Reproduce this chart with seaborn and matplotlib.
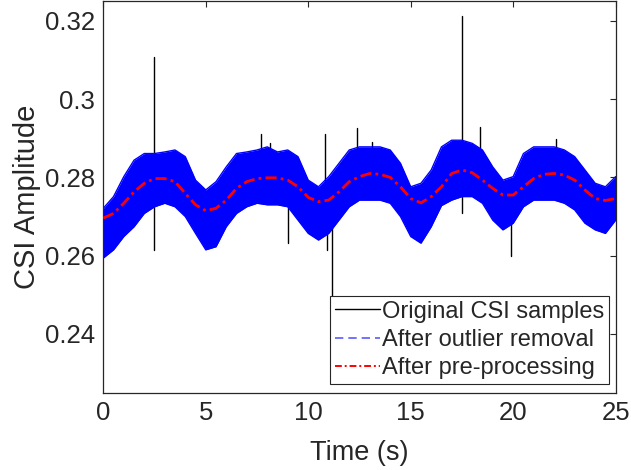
import numpy as np
import pandas as pd
import seaborn as sns
import matplotlib.pyplot as plt
from matplotlib.lines import Line2D

# ---- data ----
time_s = [0.0, 0.5, 1.0, 1.5, 2.0, 2.5, 3.0, 3.5, 4.0, 4.5, 5.0, 5.5, 6.0, 6.5, 7.0, 7.5, 8.0, 8.5,
          9.0, 9.5, 10.0, 10.5, 11.0, 11.5, 12.0, 12.5, 13.0, 13.5, 14.0, 14.5, 15.0, 15.5, 16.0, 16.5,
          17.0, 17.5, 18.0, 18.5, 19.0, 19.5, 20.0, 20.5, 21.0, 21.5, 22.0, 22.5, 23.0, 23.5, 24.0, 24.5, 25.0]

# After outlier removal: upper / lower extent of the dense noisy band
outlier_upper = [0.2721, 0.2751, 0.2802, 0.2844, 0.2861, 0.2861, 0.2865, 0.2870, 0.2853, 0.2793,
                 0.2768, 0.2789, 0.2827, 0.2861, 0.2865, 0.2870, 0.2878, 0.2865, 0.2870, 0.2853,
                 0.2793, 0.2776, 0.2802, 0.2836, 0.2870, 0.2878, 0.2878, 0.2878, 0.2870, 0.2836,
                 0.2776, 0.2785, 0.2819, 0.2878, 0.2895, 0.2895, 0.2887, 0.2870, 0.2827, 0.2793,
                 0.2802, 0.2861, 0.2878, 0.2878, 0.2878, 0.2870, 0.2853, 0.2819, 0.2785, 0.2776, 0.2802]
outlier_lower = [0.2594, 0.2615, 0.2649, 0.2674, 0.2708, 0.2725, 0.2734, 0.2725, 0.2700, 0.2657,
                 0.2615, 0.2623, 0.2674, 0.2708, 0.2725, 0.2734, 0.2730, 0.2730, 0.2725, 0.2691,
                 0.2657, 0.2640, 0.2657, 0.2691, 0.2725, 0.2742, 0.2742, 0.2742, 0.2734, 0.2700,
                 0.2649, 0.2632, 0.2674, 0.2728, 0.2742, 0.2751, 0.2751, 0.2734, 0.2691, 0.2666,
                 0.2683, 0.2725, 0.2742, 0.2742, 0.2742, 0.2734, 0.2717, 0.2683, 0.2666, 0.2657, 0.2691]

# After pre-processing (smoothed)
processed = [0.2696, 0.2708, 0.2734, 0.2763, 0.2785, 0.2797, 0.2797, 0.2789, 0.2759, 0.2730,
             0.2715, 0.2721, 0.2742, 0.2772, 0.2789, 0.2797, 0.2799, 0.2799, 0.2793, 0.2776,
             0.2749, 0.2738, 0.2742, 0.2763, 0.2789, 0.2802, 0.2810, 0.2808, 0.2800, 0.2776,
             0.2746, 0.2735, 0.2751, 0.2776, 0.2810, 0.2819, 0.2812, 0.2793, 0.2772, 0.2755,
             0.2755, 0.2776, 0.2797, 0.2808, 0.2810, 0.2806, 0.2793, 0.2768, 0.2746, 0.2741, 0.2746]

# Original CSI samples: visible outlier spikes (time, low, high)
spike_t = [2.49, 7.71, 8.15, 9.00, 10.83, 10.90, 11.16, 12.40, 13.10, 17.50, 18.36, 19.90, 22.10]
spike_low = [0.2614, 0.2780, 0.2790, 0.2632, 0.2760, 0.2615, 0.2493, 0.2800, 0.2800, 0.2708, 0.2790, 0.2598, 0.2790]
spike_high = [0.3107, 0.2912, 0.2887, 0.2740, 0.2912, 0.2720, 0.2720, 0.2925, 0.2890, 0.3213, 0.2929, 0.2720, 0.2899]

x_ticks = [0, 5, 10, 15, 20, 25]
y_ticks = [0.24, 0.26, 0.28, 0.30, 0.32]
y_tick_labels = ["0.24", "0.26", "0.28", "0.3", "0.32"]

# ---- figure ----
sns.set_theme(style="white")
plt.rcParams['font.family'] = ['Liberation Sans', 'DejaVu Sans']

fig = plt.figure(figsize=(6.31, 4.70), dpi=100)
ax = fig.add_axes([0.1637, 0.1645, 0.812, 0.8328])

spikes = pd.DataFrame({
    "t": [t for t in spike_t for _ in range(2)],
    "v": [v for lo, hi in zip(spike_low, spike_high) for v in (lo, hi)],
    "unit": [i for i in range(len(spike_t)) for _ in range(2)],
})
sns.lineplot(data=spikes, x="t", y="v", units="unit", estimator=None, color="black",
             linewidth=1.0, ax=ax, legend=False, zorder=1)

band = pd.DataFrame({"t": time_s, "upper": outlier_upper, "lower": outlier_lower,
                     "processed": processed})
ax.fill_between(band["t"], band["lower"], band["upper"], color="#0000ff", linewidth=0, zorder=2)
sns.lineplot(data=band, x="t", y="upper", color="#0000ff", linewidth=1.0, ax=ax, zorder=2)
sns.lineplot(data=band, x="t", y="lower", color="#0000ff", linewidth=1.0, ax=ax, zorder=2)

sns.lineplot(data=band, x="t", y="processed", color="#ff0000", linewidth=2.0, ax=ax, zorder=3,
             dashes=False)
ax.lines[-1].set_dashes([4, 1.5, 1, 1.5])

ax.set_xlim(0, 25)
ax.set_ylim(0.225, 0.325)
ax.set_xticks(x_ticks)
ax.set_xticklabels([str(v) for v in x_ticks])
ax.set_yticks(y_ticks)
ax.set_yticklabels(y_tick_labels)
ax.set_xlabel("Time (s)", fontsize=19.5, color="#262626", labelpad=11)
ax.set_ylabel("CSI Amplitude", fontsize=21, color="#262626", labelpad=3)

ax.tick_params(axis="both", which="both", direction="in", length=4, width=0.8,
               colors="#262626", labelsize=18.5, top=True, right=True, pad=6)
for s in ax.spines.values():
    s.set_visible(True)
    s.set_color("#262626")
    s.set_linewidth(0.9)

handles = [
    Line2D([], [], color="black", linewidth=1.0),
    Line2D([], [], color="#5a5aff", linewidth=1.2, linestyle=(0, (5, 3))),
    Line2D([], [], color="#ff0000", linewidth=1.4, linestyle=(0, (3.5, 1.5, 1.0, 1.5))),
]
labels = ["Original CSI samples", "After outlier removal", "After pre-processing"]
leg = ax.legend(handles, labels, loc="lower right", bbox_to_anchor=(0.9875, 0.022),
                fontsize=17, frameon=True, fancybox=False, framealpha=1,
                edgecolor="#262626", borderpad=0.2, labelspacing=0.27, handlelength=1.9,
                handletextpad=0.1, borderaxespad=0)
leg.get_frame().set_linewidth(0.8)

fig.savefig("out.png", dpi=100)
